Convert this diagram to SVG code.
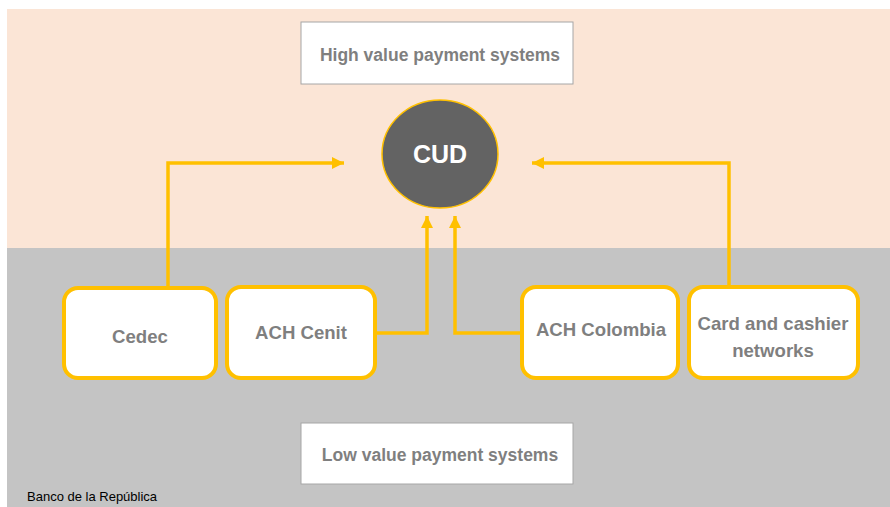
<svg xmlns="http://www.w3.org/2000/svg" width="890" height="507" viewBox="0 0 890 507">
<defs>
<style>
.box{fill:#fff;stroke:#FFC000;stroke-width:4}
.lbl{fill:#7F7F7F;font-family:"Liberation Sans",Arial,sans-serif;font-weight:bold;font-size:18.6px;text-anchor:middle}
.title{fill:#7F7F7F;font-family:"Liberation Sans",Arial,sans-serif;font-weight:bold;font-size:17.5px;text-anchor:middle}
.conn{fill:none;stroke:#FFC000;stroke-width:3.5}
</style>
<marker id="ah" markerUnits="userSpaceOnUse" markerWidth="14" markerHeight="14" refX="12" refY="6" orient="auto">
<path d="M0,0 L12,6 L0,12 Z" fill="#FFC000"/>
</marker>
</defs>
<rect x="0" y="0" width="890" height="507" fill="#fff"/>
<rect x="7" y="9" width="883" height="239" fill="#FBE5D6"/>
<rect x="7" y="248" width="883" height="259" fill="#C4C4C4"/>
<g id="high">
<rect x="301" y="22" width="272" height="62" fill="#fff" stroke="#A6A6A6" stroke-width="1"/>
<text class="title" x="440" y="61">High value payment systems</text>
</g>
<g id="low">
<rect x="301" y="423" width="272" height="61" fill="#fff" stroke="#A6A6A6" stroke-width="1"/>
<text class="title" x="440" y="461">Low value payment systems</text>
</g>
<g id="connectors">
<polyline class="conn" points="168,288 168,163 344,163" marker-end="url(#ah)"/>
<polyline class="conn" points="729,288 729,163 532,163" marker-end="url(#ah)"/>
<polyline class="conn" points="375,333 427,333 427,216" marker-end="url(#ah)"/>
<polyline class="conn" points="522,333 455,333 455,216" marker-end="url(#ah)"/>
</g>
<g id="cud">
<ellipse cx="440" cy="154" rx="58" ry="54" fill="#636363" stroke="#FFC000" stroke-width="1.5"/>
<text x="440" y="163" fill="#fff" font-family="Liberation Sans,Arial,sans-serif" font-weight="bold" font-size="25" text-anchor="middle">CUD</text>
</g>
<g id="cedec">
<rect class="box" x="64" y="288" width="152" height="90" rx="14"/>
<text class="lbl" x="140" y="343">Cedec</text>
</g>
<g id="achcenit">
<rect class="box" x="227" y="287" width="148" height="91" rx="14"/>
<text class="lbl" x="301" y="339">ACH Cenit</text>
</g>
<g id="achcolombia">
<rect class="box" x="522" y="287" width="156" height="91" rx="14"/>
<text class="lbl" x="601" y="336">ACH Colombia</text>
</g>
<g id="card">
<rect class="box" x="689" y="287" width="169" height="91" rx="14"/>
<text class="lbl" x="773" y="330">Card and cashier</text>
<text class="lbl" x="773" y="357">networks</text>
</g>
<text x="27" y="501" fill="#000" font-family="Liberation Sans,Arial,sans-serif" font-size="13">Banco de la República</text>
</svg>
